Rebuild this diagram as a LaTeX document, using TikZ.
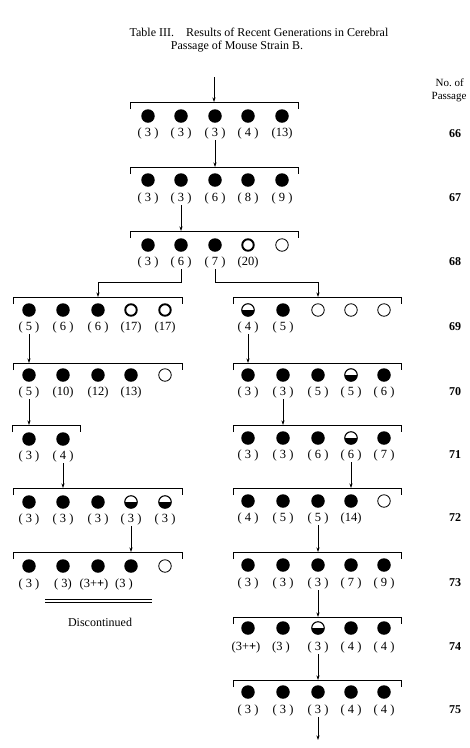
\documentclass[tikz,border=0pt]{standalone}
\usepackage{fontspec}
\setmainfont{Liberation Serif}
\usetikzlibrary{arrows.meta}

\tikzset{
  dotfull/.style={circle, fill=black, minimum size=13.5pt, inner sep=0pt},
  dotopen/.style={circle, draw, line width=0.8pt, minimum size=12.5pt, inner sep=0pt},
  dotring/.style={circle, draw, line width=1.9pt, minimum size=11.5pt, inner sep=0pt},
  dothalf/.style={circle, draw, line width=1.1pt, minimum size=12.5pt, inner sep=0pt,
    path picture={\fill (path picture bounding box.west) rectangle (path picture bounding box.south east);}},
  lab/.style={font=\fontsize{12.5}{14}\selectfont, inner sep=1pt},
  num/.style={font=\fontsize{12}{14}\selectfont\bfseries, inner sep=0pt},
  bar/.style={line width=0.7pt},
}

\begin{document}
\begin{tikzpicture}[x=1pt, y=-1pt, >={Stealth[length=4.5pt,width=3pt]}, line width=0.7pt]
    \useasboundingbox (0,0) rectangle (470,748);

    % Title
    \node [font=\fontsize{12}{14}\selectfont] (title) at (259,32) {Table III.\quad Results of Recent Generations in Cerebral};
    \node [font=\fontsize{12}{14}\selectfont] (subtitle) at (237,47) {Passage of Mouse Strain B.};
    \node [font=\fontsize{11}{13}\selectfont, anchor=west] (head1) at (432,83) {No.\ of};
    \node [font=\fontsize{11}{13}\selectfont, anchor=west] (head2) at (428,97) {Passage};

    % Levels of the brackets
    \coordinate (b66) at (0,102);
    \coordinate (b67) at (0,167);
    \coordinate (b68) at (0,231);
    \coordinate (k68) at (0,282);
    \coordinate (b69) at (0,297);
    \coordinate (b70) at (0,363);
    \coordinate (b71) at (0,425);
    \coordinate (b72) at (0,488);
    \coordinate (b73) at (0,552);
    \coordinate (b74) at (0,617);
    \coordinate (b75) at (0,680);

    % Passage 66
    \draw [bar] (130,109) -- (130,102) -- (298,102) -- (298,109);
    \foreach \x/\s/\t [count=\i] in {148/dotfull/(~3~), 181/dotfull/(~3~), 215/dotfull/(~3~), 248/dotfull/(~4~), 282/dotfull/(13)} {
        \node [\s] (c66-\i) at (\x,116) {};
        \node [lab] (l66-\i) at (\x,133) {\t};
    }
    \node [num] (n66) at (455,134) {66};

    % Passage 67
    \draw [bar] (130,174) -- (130,167) -- (298,167) -- (298,174);
    \foreach \x/\s/\t [count=\i] in {148/dotfull/(~3~), 181/dotfull/(~3~), 215/dotfull/(~6~), 248/dotfull/(~8~), 282/dotfull/(~9~)} {
        \node [\s] (c67-\i) at (\x,180) {};
        \node [lab] (l67-\i) at (\x,198) {\t};
    }
    \node [num] (n67) at (455,198) {67};

    % Passage 68
    \draw [bar] (130,238) -- (130,231) -- (298,231) -- (298,238);
    \foreach \x/\s/\t [count=\i] in {148/dotfull/(~3~), 181/dotfull/(~6~), 215/dotfull/(~7~), 248/dotring/(20), 282/dotopen/{}} {
        \node [\s] (c68-\i) at (\x,245) {};
        \node [lab] (l68-\i) at (\x,262) {\t};
    }
    \node [num] (n68) at (455,262) {68};

    % Passage 69
    \draw [bar] (13,304) -- (13,297) -- (182,297) -- (182,304);
    \foreach \x/\s/\t [count=\i] in {29/dotfull/(~5~), 63/dotfull/(~6~), 98/dotfull/(~6~), 131/dotring/(17), 165/dotring/(17)} {
        \node [\s] (c69L-\i) at (\x,310) {};
        \node [lab] (l69L-\i) at (\x,327) {\t};
    }
    \draw [bar] (233,304) -- (233,297) -- (401,297) -- (401,304);
    \foreach \x/\s/\t [count=\i] in {248/dothalf/(~4~), 283/dotfull/(~5~), 318/dotopen/{}, 351/dotopen/{}, 384/dotopen/{}} {
        \node [\s] (c69R-\i) at (\x,310) {};
        \node [lab] (l69R-\i) at (\x,327) {\t};
    }
    \node [num] (n69) at (455,327) {69};

    % Passage 70
    \draw [bar] (13,370) -- (13,363) -- (182,363) -- (182,370);
    \foreach \x/\s/\t [count=\i] in {29/dotfull/(~5~), 63/dotfull/(10), 98/dotfull/(12), 131/dotfull/(13), 165/dotopen/{}} {
        \node [\s] (c70L-\i) at (\x,375) {};
        \node [lab] (l70L-\i) at (\x,392) {\t};
    }
    \draw [bar] (233,370) -- (233,363) -- (401,363) -- (401,370);
    \foreach \x/\s/\t [count=\i] in {248/dotfull/(~3~), 283/dotfull/(~3~), 318/dotfull/(~5~), 351/dothalf/(~5~), 384/dotfull/(~6~)} {
        \node [\s] (c70R-\i) at (\x,375) {};
        \node [lab] (l70R-\i) at (\x,392) {\t};
    }
    \node [num] (n70) at (455,392) {70};

    % Passage 71
    \draw [bar] (12,432) -- (12,425) -- (80,425) -- (80,432);
    \foreach \x/\s/\t [count=\i] in {29/dotfull/(~3~), 63/dotfull/(~4~)} {
        \node [\s] (c71L-\i) at (\x,439) {};
        \node [lab] (l71L-\i) at (\x,456) {\t};
    }
    \draw [bar] (233,432) -- (233,425) -- (401,425) -- (401,432);
    \foreach \x/\s/\t [count=\i] in {248/dotfull/(~3~), 283/dotfull/(~3~), 318/dotfull/(~6~), 351/dothalf/(~6~), 384/dotfull/(~7~)} {
        \node [\s] (c71R-\i) at (\x,438) {};
        \node [lab] (l71R-\i) at (\x,455) {\t};
    }
    \node [num] (n71) at (455,455) {71};

    % Passage 72
    \draw [bar] (13,495) -- (13,488) -- (182,488) -- (182,495);
    \foreach \x/\s/\t [count=\i] in {29/dotfull/(~3~), 63/dotfull/(~3~), 98/dotfull/(~3~), 131/dothalf/(~3~), 165/dothalf/(~3~)} {
        \node [\s] (c72L-\i) at (\x,502) {};
        \node [lab] (l72L-\i) at (\x,519) {\t};
    }
    \draw [bar] (233,495) -- (233,488) -- (401,488) -- (401,495);
    \foreach \x/\s/\t [count=\i] in {248/dotfull/(~4~), 283/dotfull/(~5~), 318/dotfull/(~5~), 351/dotfull/(14), 384/dotopen/{}} {
        \node [\s] (c72R-\i) at (\x,501) {};
        \node [lab] (l72R-\i) at (\x,518) {\t};
    }
    \node [num] (n72) at (455,518) {72};

    % Passage 73
    \draw [bar] (13,559) -- (13,552) -- (182,552) -- (182,559);
    \foreach \x/\s/\t/\u [count=\i] in {29/dotfull/(~3~)/29, 63/dotfull/(~3)/63, 98/dotfull/(3+\textbf{+})/94, 131/dotfull/(3~)/124, 165/dotopen/{}/165} {
        \node [\s] (c73L-\i) at (\x,566) {};
        \node [lab] (l73L-\i) at (\u,584) {\t};
    }
    \draw [bar] (233,559) -- (233,552) -- (401,552) -- (401,559);
    \foreach \x/\s/\t [count=\i] in {248/dotfull/(~3~), 283/dotfull/(~3~), 318/dotfull/(~3~), 351/dotfull/(~7~), 384/dotfull/(~9~)} {
        \node [\s] (c73R-\i) at (\x,565) {};
        \node [lab] (l73R-\i) at (\x,583) {\t};
    }
    \node [num] (n73) at (455,583) {73};
    \draw (45,599) -- (152,599);
    \draw (45,602) -- (152,602);
    \node [font=\fontsize{12}{14}\selectfont] (disc) at (100,622) {Discontinued};

    % Passage 74
    \draw [bar] (233,624) -- (233,617) -- (401,617) -- (401,624);
    \foreach \x/\s/\t/\u [count=\i] in {248/dotfull/(3+\textbf{+})/246, 283/dotfull/(3~)/281, 318/dothalf/(~3~)/318, 351/dotfull/(~4~)/351, 384/dotfull/(~4~)/384} {
        \node [\s] (c74R-\i) at (\x,628) {};
        \node [lab] (l74R-\i) at (\u,647) {\t};
    }
    \node [num] (n74) at (455,647) {74};

    % Passage 75
    \draw [bar] (233,687) -- (233,680) -- (401,680) -- (401,687);
    \foreach \x/\s/\t [count=\i] in {248/dotfull/(~3~), 283/dotfull/(~3~), 318/dotfull/(~3~), 351/dotfull/(~4~), 384/dotfull/(~4~)} {
        \node [\s] (c75R-\i) at (\x,692) {};
        \node [lab] (l75R-\i) at (\x,710) {\t};
    }
    \node [num] (n75) at (455,710) {75};

    % Arrows
    \coordinate (start) at (214,77);
    \coordinate (stop) at (318,740);
    \draw [->] (start) -- (start |- b66);
    \draw [->] (l66-3.south) -- (l66-3.south |- b67);
    \draw [->] (l67-2.south) -- (l67-2.south |- b68);
    \draw [->] (l68-2.south) -- (l68-2.south |- k68) -| (c69L-3 |- b69);
    \draw [->] (l68-3.south) -- (l68-3.south |- k68) -| (c69R-3 |- b69);
    \draw [->] (l69L-1.south) -- (l69L-1.south |- b70);
    \draw [->] (l70L-1.south) -- (l70L-1.south |- b71);
    \draw [->] (l71L-2.south) -- (l71L-2.south |- b72);
    \draw [->] (l72L-4.south) -- (l72L-4.south |- b73);
    \draw [->] (l69R-1.south) -- (l69R-1.south |- b70);
    \draw [->] (l70R-2.south) -- (l70R-2.south |- b71);
    \draw [->] (l71R-4.south) -- (l71R-4.south |- b72);
    \draw [->] (l72R-3.south) -- (l72R-3.south |- b73);
    \draw [->] (l73R-3.south) -- (l73R-3.south |- b74);
    \draw [->] (l74R-3.south) -- (l74R-3.south |- b75);
    \draw [->] (l75R-3.south) -- (stop);
\end{tikzpicture}
\end{document}
